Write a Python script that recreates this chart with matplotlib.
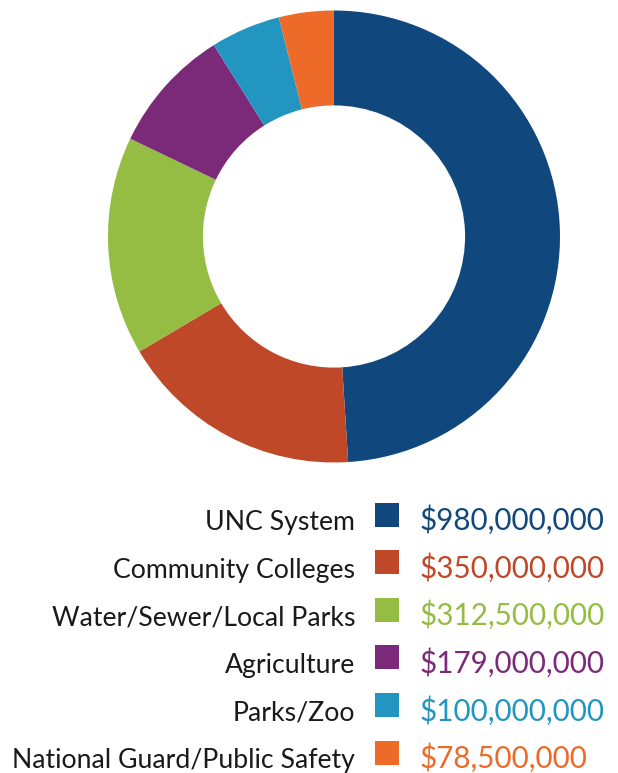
import matplotlib
matplotlib.use("Agg")
import matplotlib.pyplot as plt
from matplotlib.patches import Rectangle

categories = ["UNC System", "Community Colleges", "Water/Sewer/Local Parks",
              "Agriculture", "Parks/Zoo", "National Guard/Public Safety"]
values = [980000000, 350000000, 312500000, 179000000, 100000000, 78500000]
colors = ["#10487E", "#BF4828", "#95BC43", "#7B2A7A", "#2296C1", "#EE6A28"]

W, H = 618, 773
fig = plt.figure(figsize=(W / 100, H / 100), dpi=100)
fig.patch.set_facecolor("white")

# donut
cx, cy, r = 334, 236.5, 226
ax = fig.add_axes([(cx - r) / W, (H - cy - r) / H, 2 * r / W, 2 * r / H])
ax.pie(values, colors=colors, startangle=90, counterclock=False,
       radius=1.0, wedgeprops=dict(width=0.42, linewidth=0))
ax.set_xlim(-1, 1)
ax.set_ylim(-1, 1)
ax.set_aspect("equal")
ax.axis("off")

# legend
font = "Lato"
fs_lab = 19.2
fs_val = 21.3
baselines = [530, 577.6, 625.2, 672.8, 720.4, 768]
sq = 24
for cat, val, col, b in zip(categories, values, colors, baselines):
    fig.text(355 / W, 1 - b / H, cat, ha="right", va="baseline",
             fontsize=fs_lab, color="#1a1a1a", family=font)
    yc = b - 15.5
    fig.patches.append(Rectangle((375 / W, 1 - (yc + sq / 2) / H), sq / W, sq / H,
                                 transform=fig.transFigure, facecolor=col,
                                 edgecolor="none"))
    fig.text(420 / W, 1 - b / H, "${:,}".format(val), ha="left",
             va="baseline", fontsize=fs_val, color=col, family=font)

fig.savefig("out.png", dpi=100, facecolor="white")
